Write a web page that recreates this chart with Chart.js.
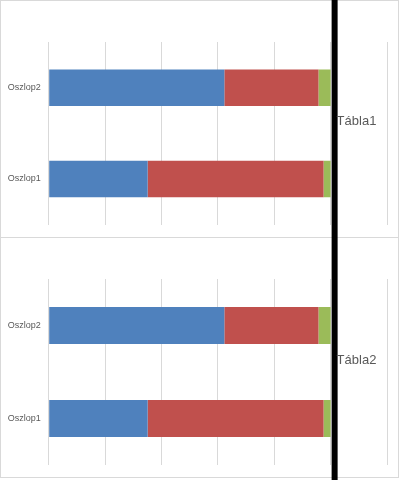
<!DOCTYPE html>
<html>
<head>
<meta charset="utf-8">
<script src="https://cdn.jsdelivr.net/npm/chart.js@4.4.0/dist/chart.umd.min.js"></script>
<style>
	body { margin: 0; background: #fff; }
	#wrap1 { position: absolute; left: 0; top: 0; width: 399px; height: 238px; }
	#wrap2 { position: absolute; left: 0; top: 238px; width: 399px; height: 242px; }
</style>
</head>
<body>
<div id="wrap1"><canvas id="chart1"></canvas></div>
<div id="wrap2"><canvas id="chart2"></canvas></div>
<script>
// data (percent of row total)
var categories = ['Oszlop2', 'Oszlop1'];
var blueValues = [62.3, 35.1];
var redValues = [33.4, 62.4];
var greenValues = [4.3, 2.5];
var tableNames = ['Tábla1', 'Tábla2'];
var axisMax = 120;
var axisStep = 20;

var frameColor = '#d9d9d9';

function makeFramePlugin(topLine) {
	return {
		id: 'frame',
		beforeDraw: function(chart) {
			var c = chart.ctx;
			var h = chart.height;
			c.save();
			c.strokeStyle = frameColor;
			c.lineWidth = 1;
			c.beginPath();
			if (topLine) {
				c.moveTo(0, 0.5); c.lineTo(399, 0.5);
				c.moveTo(0.5, 0); c.lineTo(0.5, h - 0.5);
				c.moveTo(398.5, 0); c.lineTo(398.5, h - 0.5);
				c.moveTo(0, h - 0.5); c.lineTo(399, h - 0.5);
			} else {
				c.moveTo(0.5, 0); c.lineTo(0.5, 239.5);
				c.moveTo(398.5, 0); c.lineTo(398.5, 239.5);
				c.moveTo(0, 239.5); c.lineTo(399, 239.5);
			}
			c.stroke();
			c.restore();
		}
	};
}

function makeMarkerPlugin(name) {
	return {
		id: 'marker',
		afterDraw: function(chart) {
			var c = chart.ctx;
			var xs = chart.scales.x;
			var px = xs.getPixelForValue(100);
			c.save();
			c.fillStyle = '#000';
			c.fillRect(px + 1, 0, 6, chart.height);
			c.fillStyle = '#595959';
			c.font = '13px "Liberation Sans", Arial, sans-serif';
			c.textBaseline = 'middle';
			c.textAlign = 'left';
			var area = chart.chartArea;
			c.fillText(name, px + 6, (area.top + area.bottom) / 2 - 12);
			c.restore();
		}
	};
}

function buildChart(id, name, padTop, padBottom, topLine) {
	var ctx = document.getElementById(id);
	return new Chart(ctx, {
		type: 'bar',
		data: {
			labels: categories,
			datasets: [
				{ label: 'Sor1', data: blueValues, backgroundColor: '#4f81bd', borderWidth: 0 },
				{ label: 'Sor2', data: redValues, backgroundColor: '#c0504d', borderWidth: 0 },
				{ label: 'Sor3', data: greenValues, backgroundColor: '#9bbb59', borderWidth: 0 }
			]
		},
		options: {
			indexAxis: 'y',
			responsive: true,
			maintainAspectRatio: false,
			animation: false,
			layout: { padding: { left: 0, right: 12, top: padTop, bottom: padBottom } },
			datasets: { bar: { categoryPercentage: 0.4, barPercentage: 1 } },
			plugins: { legend: { display: false }, tooltip: { enabled: false } },
			scales: {
				x: {
					stacked: true,
					min: 0,
					max: axisMax,
					ticks: { display: false, stepSize: axisStep },
					grid: { color: frameColor, drawTicks: false },
					border: { display: false },
					afterFit: function(s) { s.height = 0; }
				},
				y: {
					stacked: true,
					grid: { display: false, drawTicks: false },
					border: { display: false },
					ticks: {
						color: '#595959',
						padding: 8,
						font: { family: '"Liberation Sans", Arial, sans-serif', size: 9 }
					},
					afterFit: function(s) { s.width = 48.7; }
				}
			}
		},
		plugins: [makeFramePlugin(topLine), makeMarkerPlugin(name)]
	});
}

buildChart('chart1', tableNames[0], 42, 9, true);
buildChart('chart2', tableNames[1], 41, 15, false);
</script>
</body>
</html>
